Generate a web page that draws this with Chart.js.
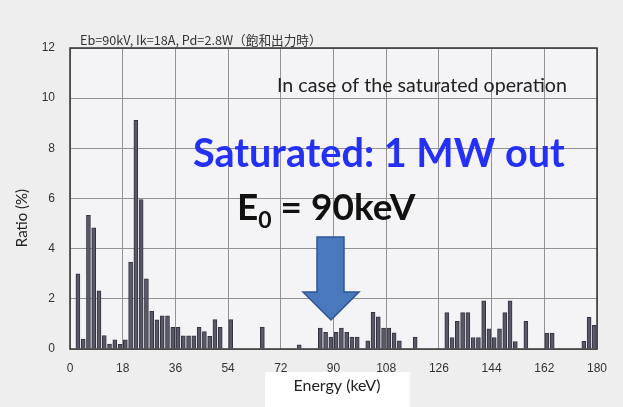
<!DOCTYPE html>
<html>
<head>
<meta charset="utf-8">
<script src="https://cdn.jsdelivr.net/npm/chart.js@4.4.1/dist/chart.umd.min.js"></script>
<style>
  html, body { margin: 0; padding: 0; background: #eeeeef; }
  #wrap { width: 623px; height: 407px; position: relative; }
</style>
</head>
<body>
<div id="wrap"><canvas id="chart"></canvas></div>
<script>
// centres (keV) of the non-empty 1.8 keV bins
const energies = [
  2.7, 4.5, 6.3, 8.1, 9.9, 11.7, 13.5, 15.3, 17.1, 18.9,
  20.7, 22.5, 24.3, 26.1, 27.9, 29.7, 31.5, 33.3, 35.1, 36.9,
  38.7, 40.5, 42.3, 44.1, 45.9, 47.7, 49.5, 51.3, 54.9, 65.7,
  78.3, 85.5, 87.3, 89.1, 90.9, 92.7, 94.5, 96.3, 98.1, 101.7,
  103.5, 105.3, 107.1, 108.9, 110.7, 112.5, 117.9, 128.7, 130.5, 132.3,
  134.1, 135.9, 137.7, 139.5, 141.3, 143.1, 144.9, 146.7, 148.5, 150.3,
  152.1, 155.7, 162.9, 164.7, 175.5, 177.3, 179.1
];
// ratio (%) for each bin above
const ratios = [
  3.0, 0.4, 5.33, 4.83, 2.32, 0.54, 0.2, 0.37, 0.19, 0.37,
  3.47, 9.12, 5.96, 2.8, 1.5, 1.16, 1.32, 1.32, 0.86, 0.86,
  0.53, 0.53, 0.53, 0.86, 0.69, 0.51, 1.17, 0.86, 1.17, 0.86,
  0.17, 0.83, 0.66, 0.48, 0.66, 0.83, 0.66, 0.48, 0.48, 0.33,
  1.46, 1.28, 0.83, 0.83, 0.64, 0.33, 0.48, 1.45, 0.46, 1.10,
  1.45, 1.45, 0.46, 0.46, 1.92, 0.8, 0.46, 0.8, 1.45, 1.92,
  0.3, 1.10, 0.63, 0.63, 0.31, 1.26, 0.94
];
const xTicks = [0, 18, 36, 54, 72, 90, 108, 126, 144, 162, 180];
const yTicks = [0, 2, 4, 6, 8, 10, 12];

const caption = 'Eb=90kV, Ik=18A, Pd=2.8W（飽和出力時）';
const note = 'In case of the saturated operation';
const headline = 'Saturated: 1 MW out';

// shrink/grow a font until the text spans the wanted width
function fitFont(ctx, text, weight, family, width) {
  ctx.font = weight + ' 100px ' + family;
  return 100 * width / ctx.measureText(text).width;
}

const overlay = {
  id: 'overlay',
  beforeDraw(chart) {
    const { ctx, chartArea: a } = chart;
    ctx.save();
    ctx.fillStyle = '#f4f4f6';
    ctx.fillRect(a.left, a.top, a.right - a.left, a.bottom - a.top);
    // pasted axis title box
    ctx.fillStyle = '#ffffff';
    ctx.fillRect(265, 372, 145, 35);
    ctx.restore();
  },
  afterDraw(chart) {
    const { ctx, chartArea: a } = chart;
    ctx.save();
    // frame
    ctx.strokeStyle = '#333';
    ctx.lineWidth = 1.5;
    ctx.strokeRect(a.left, a.top, a.right - a.left, a.bottom - a.top);

    ctx.textBaseline = 'alphabetic';
    ctx.textAlign = 'left';

    ctx.fillStyle = '#333';
    let s = fitFont(ctx, caption, 'normal', '"Noto Sans CJK JP"', 242);
    ctx.font = s + 'px "Noto Sans CJK JP"';
    ctx.fillText(caption, 80, 45);

    ctx.fillStyle = '#222';
    s = fitFont(ctx, note, 'normal', 'Lato', 290);
    ctx.font = s + 'px Lato';
    ctx.fillText(note, 277, 92);

    ctx.fillStyle = '#2430f5';
    s = fitFont(ctx, headline, 'bold', 'Lato', 372);
    ctx.font = 'bold ' + s + 'px Lato';
    ctx.fillText(headline, 193, 167);

    // E0 = 90keV
    ctx.fillStyle = '#111';
    ctx.font = 'bold 37px Lato';
    ctx.fillText('E', 237, 220);
    let w = ctx.measureText('E').width;
    ctx.font = 'bold 23px Lato';
    ctx.fillText('0', 237 + w, 228);
    w += ctx.measureText('0').width;
    ctx.font = 'bold 37px Lato';
    ctx.fillText(' = 90keV', 237 + w, 220);

    // arrow pointing at 90 keV
    ctx.beginPath();
    ctx.moveTo(317, 237);
    ctx.lineTo(344, 237);
    ctx.lineTo(344, 292);
    ctx.lineTo(359, 292);
    ctx.lineTo(331, 320);
    ctx.lineTo(303, 292);
    ctx.lineTo(317, 292);
    ctx.closePath();
    ctx.fillStyle = '#4a78bd';
    ctx.fill();
    ctx.strokeStyle = '#2f5597';
    ctx.lineWidth = 1.5;
    ctx.stroke();

    // axis titles
    ctx.fillStyle = '#222';
    ctx.font = '16px Lato';
    ctx.textAlign = 'center';
    ctx.fillText('Energy (keV)', 337, 391);
    ctx.translate(27, 218);
    ctx.rotate(-Math.PI / 2);
    ctx.font = '15px Lato';
    ctx.fillText('Ratio (%)', 0, 0);
    ctx.restore();
  }
};

const ctx = document.getElementById('chart').getContext('2d');
new Chart(ctx, {
  type: 'bar',
  data: {
    datasets: [{
      label: 'Ratio',
      data: energies.map((e, i) => ({ x: e, y: ratios[i] })),
      backgroundColor: '#585869',
      borderColor: '#33333f',
      borderWidth: 1,
      barThickness: 4
    }]
  },
  options: {
    responsive: true,
    maintainAspectRatio: false,
    animation: false,
    layout: { padding: { top: 48, right: 26, left: 0, bottom: 0 } },
    plugins: { legend: { display: false }, tooltip: { enabled: false } },
    scales: {
      x: {
        type: 'linear',
        min: 0,
        max: 180,
        offset: false,
        afterBuildTicks: (scale) => { scale.ticks = xTicks.map(v => ({ value: v })); },
        afterFit: (scale) => { scale.height = 58; },
        grid: { color: '#929292', lineWidth: 1, drawTicks: false, offset: false },
        border: { display: false },
        ticks: { padding: 12, color: '#333', font: { family: 'Liberation Sans', size: 12 } }
      },
      y: {
        min: 0,
        max: 12,
        afterBuildTicks: (scale) => { scale.ticks = yTicks.map(v => ({ value: v })); },
        afterFit: (scale) => { scale.width = 70; },
        grid: { color: '#929292', lineWidth: 1, drawTicks: false },
        border: { display: false },
        ticks: { padding: 15, color: '#333', font: { family: 'Liberation Sans', size: 12 } }
      }
    }
  },
  plugins: [overlay]
});
</script>
</body>
</html>
